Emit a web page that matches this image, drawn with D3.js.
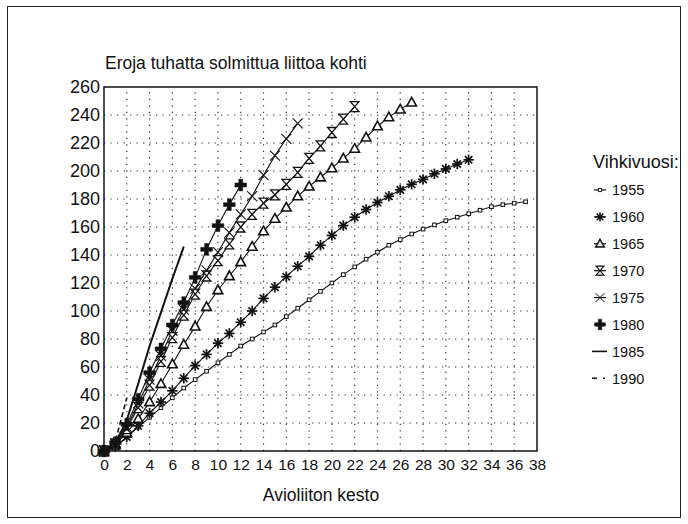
<!DOCTYPE html>
<html><head><meta charset="utf-8">
<script src="https://cdn.jsdelivr.net/npm/d3@7"></script>
<style>
html,body{margin:0;padding:0;background:#fff;}
svg text{font-family:"Liberation Sans",Arial,Helvetica,sans-serif;fill:#111;}
</style></head>
<body>
<svg id="chart" width="688" height="524"></svg>
<script>
// ---- data ----
const years = ["1955","1960","1965","1970","1975","1980","1985","1990"];
const v1955 = [0,3,10,17,24,31,38,45,51,57, 63,69,75,80,85,90,96,102,108,114, 120,126,131.5,137,142,147,151,155,158.5,161.5, 164.5,167,169.5,172,174.5,176,177,178];
const v1960 = [0,3,10,18,27,35,43,52,61,69, 77,84,92,100,109,117,124.5,132,139,147, 154,161,167,172.5,177.5,182,186.5,190.5,194,198, 201.5,205,208];
const v1965 = [0,5,13,23,35,48,62,76,89,103, 115,125,135,146,157,166,174,182,189,195.5, 202,209,216,224,232,238.5,244,249];
const v1970 = [0,5,16,31,47,64,81,97,112,125, 136,148,160,169,177,183,190.5,199,209,218, 227.5,237,246];
const v1975 = [0,5,17,34,51,68,86,101,116,129, 142,156,169,182,197,211,223,234];
const v1980 = [0,6,19,37,56,73,90,106,124,144, 161,176,190];
const v1985 = [0,6,22,48,75,99,123,146];
const v1990 = [0,7,38];
const xTicks = d3.range(0, 39, 2);
const yTicks = d3.range(0, 261, 20);
const titleText = "Eroja tuhatta solmittua liittoa kohti";
const xTitle = "Avioliiton kesto";
const legendTitle = "Vihkivuosi:";

const seriesValues = [v1955, v1960, v1965, v1970, v1975, v1980, v1985, v1990];
const markerTypes = ["square","asterisk","triangle","hourglass","x","plus","none","none"];

const svg = d3.select("#chart");
// outer frame
svg.append("rect").attr("x",7.5).attr("y",6.5).attr("width",673).attr("height",511)
  .attr("fill","none").attr("stroke","#222").attr("stroke-width",1);

const x = d3.scaleLinear().domain([0,38]).range([104,537]);
const y = d3.scaleLinear().domain([0,260]).range([451,87]);

// grid
const grid = svg.append("g");
grid.selectAll("line.v").data(xTicks.filter(d=>d>0 && d<38)).join("line")
  .attr("x1",d=>x(d)).attr("x2",d=>x(d)).attr("y1",y(0)).attr("y2",y(260))
  .attr("stroke","#333").attr("stroke-width",1.2).attr("stroke-dasharray","1.3,5.2");
grid.selectAll("line.h").data(yTicks.filter(d=>d>0 && d<260)).join("line")
  .attr("x1",x(0)).attr("x2",x(38)).attr("y1",d=>y(d)).attr("y2",d=>y(d))
  .attr("stroke","#333").attr("stroke-width",1.2).attr("stroke-dasharray","1.3,5.2");

// axes
const xAxis = d3.axisBottom(x).tickValues(xTicks).tickSize(0).tickPadding(8);
const gx = svg.append("g").attr("transform",`translate(0,${y(0)})`).call(xAxis);
gx.select(".domain").remove();
gx.selectAll("text").attr("font-size",15.5).attr("fill","#111");
const yAxis = d3.axisLeft(y).tickValues(yTicks).tickSize(0).tickPadding(4);
const gy = svg.append("g").attr("transform",`translate(${x(0)},0)`).call(yAxis);
gy.select(".domain").remove();
gy.selectAll("text").attr("font-size",18).attr("fill","#111");

// plot frame
svg.append("rect").attr("x",x(0)).attr("y",y(260)).attr("width",x(38)-x(0)).attr("height",y(0)-y(260))
  .attr("fill","none").attr("stroke","#111").attr("stroke-width",1.5);

// titles
svg.append("text").attr("x",105).attr("y",69).attr("font-size",17.5).text(titleText);
svg.append("text").attr("x",321).attr("y",501).attr("text-anchor","middle").attr("font-size",17.5).text(xTitle);

// marker drawing
function drawMarker(g, type, cx, cy, scale) {
  const s = scale || 1;
  const m = g.append("g").attr("transform",`translate(${cx},${cy}) scale(${s})`);
  if (type === "square") {
    m.append("rect").attr("x",-1.8).attr("y",-1.8).attr("width",3.6).attr("height",3.6)
      .attr("fill","#fff").attr("stroke","#111").attr("stroke-width",1);
  } else if (type === "asterisk") {
    [0,45,90,135].forEach(a=>{
      const r = 5.2, t = a*Math.PI/180;
      m.append("line").attr("x1",-r*Math.cos(t)).attr("y1",-r*Math.sin(t))
        .attr("x2",r*Math.cos(t)).attr("y2",r*Math.sin(t))
        .attr("stroke","#111").attr("stroke-width",1.7);
    });
  } else if (type === "triangle") {
    m.append("path").attr("d","M0,-5 L4.8,3.6 L-4.8,3.6 Z")
      .attr("fill","#fff").attr("stroke","#111").attr("stroke-width",1.6);
  } else if (type === "hourglass") {
    m.append("path").attr("d","M-4.3,-5 H4.3 L-4.3,5 H4.3 Z")
      .attr("fill","#fff").attr("stroke","#111").attr("stroke-width",1.3);
  } else if (type === "x") {
    m.append("path").attr("d","M-5,-5 L5,5 M-5,5 L5,-5")
      .attr("stroke","#111").attr("stroke-width",1.1).attr("fill","none");
  } else if (type === "plus") {
    m.append("path").attr("d","M-1.9,-5.8 H1.9 V-1.9 H5.8 V1.9 H1.9 V5.8 H-1.9 V1.9 H-5.8 V-1.9 H-1.9 Z")
      .attr("fill","#111").attr("stroke","#111").attr("stroke-width",0.6);
  }
}

const line = d3.line().x((d,i)=>x(i)).y(d=>y(d));
const plot = svg.append("g");
seriesValues.forEach((vals, k) => {
  const p = plot.append("path").datum(vals).attr("d", line)
    .attr("fill","none").attr("stroke","#111")
    .attr("stroke-width", k===6 ? 2 : (k===7 ? 1.6 : 1.1));
  if (k===7) p.attr("stroke-dasharray","5,3");
});
seriesValues.forEach((vals, k) => {
  const type = markerTypes[k];
  if (type === "none") return;
  const g = plot.append("g");
  vals.forEach((v,i)=>drawMarker(g, type, x(i), y(v)));
});

// legend
const lg = svg.append("g");
lg.append("text").attr("x",593).attr("y",168).attr("font-size",18).text(legendTitle);
years.forEach((yr,k)=>{
  const cy = 190 + k*26.9;
  const type = markerTypes[k];
  if (k===6) {
    lg.append("line").attr("x1",592).attr("x2",607).attr("y1",cy).attr("y2",cy).attr("stroke","#111").attr("stroke-width",1.6);
  } else if (k===7) {
    lg.append("line").attr("x1",592).attr("x2",608).attr("y1",cy).attr("y2",cy).attr("stroke","#111").attr("stroke-width",1.6).attr("stroke-dasharray","5,6,2,6");
  } else {
    lg.append("line").attr("x1",594).attr("x2",606).attr("y1",cy).attr("y2",cy).attr("stroke","#111").attr("stroke-width",1.2);
    drawMarker(lg, type, 600, cy, 0.9);
  }
  lg.append("text").attr("x",612).attr("y",cy).attr("dy","0.36em").attr("font-size",14.5).text(yr);
});
</script>
</body></html>
